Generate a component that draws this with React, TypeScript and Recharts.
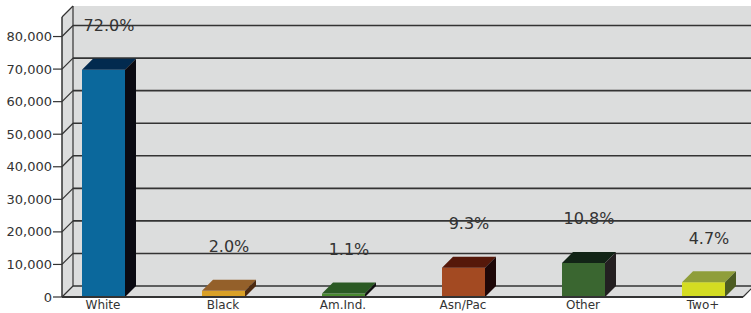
import React from 'react';
import { BarChart, Bar, XAxis, YAxis, CartesianGrid, LabelList } from 'recharts';

const categories = ['White', 'Black', 'Am.Ind.', 'Asn/Pac', 'Other', 'Two+'];
const population = [69800, 1900, 1050, 9000, 10450, 4550];
const shares = ['72.0%', '2.0%', '1.1%', '9.3%', '10.8%', '4.7%'];
const yTicks = [0, 10000, 20000, 30000, 40000, 50000, 60000, 70000, 80000];

// front / top / side face colours per bar
const faces = [
  ['#0b689c', '#022a4f', '#0a0a12'],
  ['#d9a027', '#94602a', '#4d2a10'],
  ['#4a8a30', '#2b5a24', '#111111'],
  ['#a34a22', '#55180a', '#1e0808'],
  ['#3a6630', '#122416', '#242021'],
  ['#d4dc22', '#8f9e3a', '#4c5c22'],
];

const data = categories.map((name, i) => ({
  name,
  value: population[i],
  share: shares[i],
}));

const W = 751;
const H = 313;
const DEPTH = 11;
const margin = { top: 17, right: 8, bottom: 0, left: 0 };
const plotLeft = 62;
const plotTop = margin.top;
const plotBottom = 297;
const lineColor = '#333333';

const Bar3D = (props: any) => {
  const { x, y, width, height, index } = props;
  const [front, top, side] = faces[index % faces.length];
  const d = DEPTH;
  return (
    <g>
      <rect x={x} y={y} width={width} height={height} fill={front} />
      <polygon
        points={`${x},${y} ${x + d},${y - d} ${x + width + d},${y - d} ${x + width},${y}`}
        fill={top}
      />
      <polygon
        points={`${x + width},${y} ${x + width + d},${y - d} ${x + width + d},${y + height - d} ${x + width},${y + height}`}
        fill={side}
      />
    </g>
  );
};

const GridLine = (props: any) => {
  const { x1, x2, y1, index } = props;
  const d = DEPTH;
  const isTick = y1 > plotTop + 1;
  return (
    <g key={`gl-${index}`}>
      {index === 0 && (
        <g>
          <polygon
            points={`${plotLeft},${plotTop} ${plotLeft + d},${plotTop - d} ${W},${plotTop - d} ${W},${plotBottom - d} ${x2 + d},${plotBottom - d} ${x2},${plotBottom} ${plotLeft},${plotBottom}`}
            fill="#dcdddd"
            stroke="none"
          />
          <line x1={plotLeft} y1={plotTop} x2={plotLeft + d} y2={plotTop - d} stroke={lineColor} strokeWidth={1.2} />
          <line x1={plotLeft + d} y1={plotTop - d} x2={plotLeft + d} y2={plotBottom - d} stroke={lineColor} strokeWidth={1.2} />
          <line x1={plotLeft} y1={plotTop} x2={plotLeft} y2={plotBottom} stroke={lineColor} strokeWidth={1.5} />
          <line x1={x2} y1={plotBottom} x2={x2 + d} y2={plotBottom - d} stroke={lineColor} strokeWidth={1.2} />
        </g>
      )}
      {isTick && (
        <g>
          <line x1={x1} y1={y1} x2={x1 + d} y2={y1 - d} stroke={lineColor} strokeWidth={1.2} />
          <line x1={x1 + d} y1={y1 - d} x2={W} y2={y1 - d} stroke={lineColor} strokeWidth={1.6} />
        </g>
      )}
    </g>
  );
};

const XTick = (p: any) => (
  <text x={p.x} y={p.y + 9} textAnchor="middle" fontSize={12} fill="#333333">
    {p.payload.value}
  </text>
);

const App = () => {
  return (
    <div
      style={{
        position: 'absolute',
        left: 0,
        top: 0,
        width: W,
        height: H,
        overflow: 'hidden',
        fontFamily: 'DejaVu Sans, Verdana, sans-serif',
      }}
    >
      <BarChart width={W} height={H} data={data} margin={margin}>
        <CartesianGrid horizontal={GridLine} vertical={false} fill="none" stroke="none" />
        <XAxis
          dataKey="name"
          height={16}
          padding={{ left: -19, right: -20 }}
          axisLine={{ stroke: lineColor, strokeWidth: 2 }}
          tickLine={false}
          tickSize={0}
          tickMargin={3}
          tick={<XTick />}
          interval={0}
        />
        <YAxis
          width={62}
          domain={[0, 86000]}
          ticks={yTicks}
          allowDataOverflow
          axisLine={false}
          tickLine={{ stroke: lineColor, strokeWidth: 1.2 }}
          tickSize={9}
          tickMargin={1}
          tick={{ fill: '#333333', fontSize: 13 }}
          tickFormatter={(v: number) => v.toLocaleString('en-US')}
        />
        <Bar dataKey="value" barSize={43} shape={<Bar3D />} isAnimationActive={false}>
          <LabelList
            dataKey="share"
            content={(p: any) => (
              <text
                x={p.x + p.width / 2 + DEPTH / 2}
                y={p.y - 44}
                textAnchor="middle"
                dominantBaseline="central"
                fontSize={16}
                fill="#333333"
              >
                {p.value}
              </text>
            )}
          />
        </Bar>
      </BarChart>
    </div>
  );
};

export default App;
